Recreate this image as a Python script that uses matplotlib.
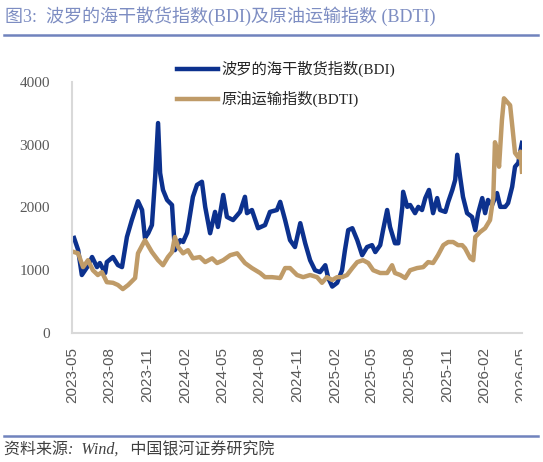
import pandas as pd
import matplotlib
matplotlib.use('Agg')
from matplotlib import pyplot as plt
import matplotlib.dates as mdates
from matplotlib.transforms import Bbox, TransformedBbox

# BDI
bdi_dates = ['2023-05-06', '2023-05-16', '2023-05-25', '2023-06-07', '2023-06-19', '2023-07-01', '2023-07-08',
             '2023-07-21', '2023-07-25', '2023-08-09', '2023-08-21', '2023-08-31', '2023-09-12', '2023-09-24',
             '2023-10-02', '2023-10-09', '2023-10-19', '2023-10-26', '2023-11-03', '2023-11-12', '2023-11-20',
             '2023-11-27', '2023-12-02', '2023-12-09', '2023-12-19', '2023-12-31', '2024-01-07', '2024-01-20',
             '2024-01-27', '2024-02-06', '2024-02-20', '2024-03-01', '2024-03-13', '2024-03-21', '2024-04-02',
             '2024-04-14', '2024-04-21', '2024-05-04', '2024-05-13', '2024-05-28', '2024-06-14', '2024-06-26',
             '2024-07-01', '2024-07-13', '2024-07-28', '2024-08-14', '2024-08-26', '2024-09-12', '2024-09-20',
             '2024-10-02', '2024-10-14', '2024-10-26', '2024-11-08', '2024-11-20', '2024-12-02', '2024-12-14',
             '2024-12-26', '2025-01-08', '2025-01-15', '2025-01-25', '2025-02-06', '2025-02-18', '2025-02-25',
             '2025-03-05', '2025-03-15', '2025-03-27', '2025-04-08', '2025-04-20', '2025-05-02', '2025-05-10',
             '2025-05-22', '2025-05-29', '2025-06-08', '2025-06-15', '2025-06-27', '2025-07-05', '2025-07-15',
             '2025-07-17', '2025-07-27', '2025-08-03', '2025-08-15', '2025-08-23', '2025-09-01', '2025-09-09',
             '2025-09-18', '2025-09-28', '2025-10-08', '2025-10-15', '2025-10-28', '2025-11-04', '2025-11-14',
             '2025-11-21', '2025-11-26', '2025-12-03', '2025-12-10', '2025-12-20', '2026-01-01', '2026-01-09',
             '2026-01-16', '2026-01-26', '2026-02-02', '2026-02-09', '2026-02-19', '2026-03-03', '2026-03-11',
             '2026-03-23', '2026-03-30', '2026-04-09', '2026-04-16', '2026-04-24', '2026-04-29', '2026-05-03']
bdi_values = [1514, 1323, 924, 1050, 1211, 1050, 1115,
              956, 1130, 1211, 1083, 1050, 1530, 1800,
              1960, 2100, 1960, 1514, 1590, 1720, 2490,
              3346, 2550, 2280, 2120, 2040, 1320, 1480,
              1450, 1600, 2170, 2360, 2410, 2010, 1590,
              1930, 1690, 2200, 1850, 1800, 1930, 2170,
              1910, 1960, 1670, 1720, 1930, 1960, 2090,
              1800, 1480, 1370, 1750, 1430, 1160, 1000,
              970, 1080, 880, 740, 800, 1000, 1320,
              1640, 1670, 1480, 1240, 1370, 1400, 1290,
              1400, 1640, 1960, 1690, 1430, 1430, 2010,
              2250, 2010, 2040, 1910, 2010, 1960, 2150,
              2280, 1910, 2150, 1960, 1930, 2090, 2280,
              2440, 2840, 2490, 2170, 1910, 1850, 1640,
              1910, 2150, 1910, 2120, 2040, 2230, 2010,
              2010, 2070, 2330, 2650, 2710, 2900, 3030]

# BDTI
bdti_dates = ['2023-05-06', '2023-05-16', '2023-05-28', '2023-06-09', '2023-06-21', '2023-07-03', '2023-07-13',
              '2023-07-25', '2023-08-09', '2023-08-21', '2023-09-02', '2023-09-15', '2023-10-02', '2023-10-09',
              '2023-10-26', '2023-11-12', '2023-11-27', '2023-12-09', '2023-12-21', '2023-12-31', '2024-01-07',
              '2024-01-15', '2024-01-27', '2024-02-08', '2024-02-20', '2024-03-08', '2024-03-21', '2024-04-07',
              '2024-04-19', '2024-05-04', '2024-05-21', '2024-06-07', '2024-06-26', '2024-07-13', '2024-08-02',
              '2024-08-14', '2024-08-31', '2024-09-20', '2024-10-02', '2024-10-14', '2024-10-31', '2024-11-15',
              '2024-12-02', '2024-12-19', '2024-12-31', '2025-01-12', '2025-01-25', '2025-02-06', '2025-02-18',
              '2025-03-02', '2025-03-15', '2025-03-27', '2025-04-10', '2025-04-23', '2025-05-05', '2025-05-22',
              '2025-06-08', '2025-06-20', '2025-06-27', '2025-07-10', '2025-07-22', '2025-08-03', '2025-08-20',
              '2025-09-04', '2025-09-16', '2025-09-28', '2025-10-10', '2025-10-23', '2025-11-04', '2025-11-16',
              '2025-11-28', '2025-12-08', '2025-12-15', '2025-12-28', '2026-01-04', '2026-01-09', '2026-01-21',
              '2026-02-02', '2026-02-14', '2026-02-22', '2026-02-26', '2026-03-03', '2026-03-08', '2026-03-15',
              '2026-03-20', '2026-03-28', '2026-04-04', '2026-04-11', '2026-04-16', '2026-04-24', '2026-04-29',
              '2026-05-03']
bdti_values = [1290, 1270, 1050, 1160, 1000, 924, 970,
               810, 800, 765, 700, 765, 876, 1270,
               1480, 1290, 1160, 1080, 1210, 1290, 1530,
               1370, 1270, 1320, 1190, 1210, 1130, 1190,
               1115, 1160, 1240, 1270, 1115, 1035, 956,
               890, 890, 876, 1035, 1035, 924, 890,
               924, 890, 800, 890, 845, 890, 890,
               924, 1035, 1130, 1160, 1115, 1000, 956,
               956, 1080, 956, 924, 876, 1000, 1035,
               1050, 1130, 1115, 1240, 1400, 1450, 1450,
               1400, 1400, 1350, 1190, 1160, 1530, 1610,
               1670, 1800, 2170, 3040, 2920, 2650, 3390,
               3740, 3680, 3630, 3190, 2870, 2800, 2890,
               2570]

tick_dates = pd.date_range('2023-05-01', '2026-05-01', freq='3MS')
y_ticks = [0, 1000, 2000, 3000, 4000]

title = '图3:  波罗的海干散货指数(BDI)及原油运输指数 (BDTI)'
source = '资料来源:  Wind,   中国银河证券研究院'

fonts = ['Liberation Serif', 'Noto Sans CJK SC', 'DejaVu Sans']
plt.rcParams['font.family'] = fonts

fig = plt.figure(figsize=(5.43, 4.62), dpi=100)
ax = fig.add_axes([72 / 543, 1 - 333 / 462, 450 / 543, 251 / 462])

ax.plot(pd.to_datetime(bdi_dates), bdi_values, color='#0c318e', lw=3.2, label='波罗的海干散货指数(BDI)',
        solid_joinstyle='round')
ax.plot(pd.to_datetime(bdti_dates), bdti_values, color='#bf9b68', lw=3.2, label='原油运输指数(BDTI)',
        solid_joinstyle='round')

ax.set_xlim(pd.Timestamp('2023-05-01'), pd.Timestamp('2026-05-03'))
ax.set_ylim(0, 4000)
ax.set_yticks(y_ticks)
ax.set_xticks(tick_dates)
ax.xaxis.set_major_formatter(mdates.DateFormatter('%Y-%m'))

for s in ['top', 'right']:
	ax.spines[s].set_visible(False)
for s in ['left', 'bottom']:
	ax.spines[s].set_color('#d9d9d9')
	ax.spines[s].set_linewidth(1.5)

ax.tick_params(axis='y', length=0, pad=16, labelsize=11, labelcolor='#595959')
ax.tick_params(axis='x', length=0, pad=10, labelsize=11, labelcolor='#595959')

fig.legend(loc='upper left', bbox_to_anchor=(163 / 543, 1 - 47 / 462), frameon=False,
           fontsize=11, handlelength=2.7, handletextpad=0.2, labelspacing=0.9, labelcolor='#262626')

fig.text(5 / 543, 1 - 16 / 462, title, fontsize=13, color='#7d8dc2', va='center', ha='left', family=fonts)
fig.add_artist(plt.Line2D([4 / 543, 538 / 543], [1 - 35 / 462] * 2, color='#7083bd', lw=1.8))
fig.add_artist(plt.Line2D([4 / 543, 538 / 543], [1 - 436 / 462] * 2, color='#7083bd', lw=1.8))
fig.text(4 / 543, 1 - 451 / 462, source, fontsize=11.5, color='#404040', va='center', ha='left',
         style='italic', family=fonts)

# tick labels are final only after a draw
fig.canvas.draw()
labels = ax.get_xticklabels()
for lab in labels:
	lab.set_rotation(90)
	lab.set_family('Liberation Sans')
	lab.set_va('top')
	lab.set_ha('center')
# last label is cut at the plot edge in the original
clip = TransformedBbox(Bbox([[-0.2, -1.0], [1.0, 1.0]]), ax.transAxes)
labels[-1].set_clip_box(clip)
labels[-1].set_clip_on(True)

fig.savefig('out.png', dpi=100)
plt.close(fig)
